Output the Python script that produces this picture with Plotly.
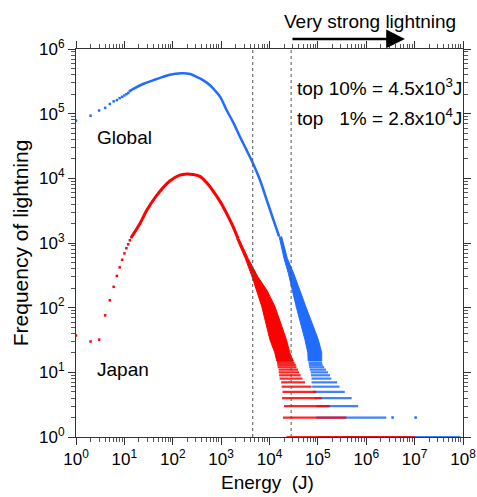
import plotly.graph_objects as go

# ---------------- data ----------------
# Global: discrete low-energy bins
g_dot_x = [1, 2, 3, 4, 5, 6, 7, 8, 9, 10, 11, 12, 13]
g_dot_y = [7.8e4, 9.3e4, 1.12e5, 1.23e5, 1.41e5, 1.55e5, 1.62e5, 1.74e5,
           1.82e5, 1.91e5, 2.0e5, 2.09e5, 2.24e5]
# Global: dense part of the distribution
g_line_x = [13, 15, 25, 40, 60, 87, 150, 230, 309, 420, 589, 760, 955, 1290,
            1800, 2450, 3300, 4570, 6300, 8700, 12000, 15800]
g_line_y = [2.24e5, 2.4e5, 2.9e5, 3.3e5, 3.67e5, 4.0e5, 4.2e5, 4.1e5, 3.7e5,
            3.3e5, 2.75e5, 2.25e5, 1.82e5, 1.15e5, 7.2e4, 4.4e4, 2.8e4, 1.7e4,
            9.6e3, 4.7e3, 2.3e3, 1.26e3]
# Global: scattered band (count, left energy, right energy)
g_band_y = [1260, 575, 340, 105, 32, 20, 15]
g_band_xl = [1.58e4, 2.0e4, 2.45e4, 3.55e4, 5.4e4, 6.2e4, 6.3e4]
g_band_xr = [1.78e4, 2.34e4, 3.16e4, 5.6e4, 1.02e5, 1.2e5, 1.2e5]
# Global: low-count rows (count, start energy, end energy)
g_row_n = [14, 13, 12, 11, 10, 9, 8, 7, 6, 5, 4, 3, 2, 1]
g_row_x0 = [6.4e4, 6.5e4, 6.6e4, 6.8e4, 7.1e4, 7.2e4, 7.4e4, 7.4e4, 7.6e4,
            7.9e4, 8.7e4, 9.3e4, 9.3e4, 1.0e5]
g_row_x1 = [1.22e5, 1.26e5, 1.35e5, 1.48e5, 1.62e5, 1.78e5, 1.9e5, 2.5e5,
            2.8e5, 3.6e5, 5.0e5, 6.8e5, 2.6e6, 8.9e7]
g_iso_x = [3.5e6, 1.05e7]
g_iso_y = [2, 2]

# Japan: discrete low-energy bins
j_dot_x = [1, 2, 3, 4, 5, 6, 7, 8, 9, 10, 11, 12, 13, 14]
j_dot_y = [37, 30, 32, 76, 130, 210, 310, 420, 550, 690, 830, 955, 1100, 1230]
# Japan: dense part
j_line_x = [14, 21, 29, 47, 87, 140, 195, 260, 363, 500, 690, 950, 1290,
            1700, 2240]
j_line_y = [1230, 2.0e3, 3.2e3, 5.5e3, 9.1e3, 1.12e4, 1.17e4, 1.15e4, 1.07e4,
            8.6e3, 6.3e3, 4.4e3, 2.9e3, 1.9e3, 1.17e3]
# Japan: scattered band
j_band_y = [1170, 575, 300, 190, 105, 32, 20, 15]
j_band_xl = [2090, 3160, 4370, 5370, 6900, 1.02e4, 1.29e4, 1.41e4]
j_band_xr = [2340, 3630, 5750, 8700, 1.29e4, 2.24e4, 2.63e4, 3.1e4]
# Japan: low-count rows
j_row_n = [15, 14, 13, 12, 11, 10, 9, 8, 7, 6, 5, 4, 3, 2, 1]
j_row_x0 = [1.41e4, 1.43e4, 1.45e4, 1.48e4, 1.55e4, 1.55e4, 1.58e4, 1.62e4,
            1.74e4, 1.78e4, 1.86e4, 1.82e4, 2.0e4, 1.9e4, 2.24e4]
j_row_x1 = [3.1e4, 3.3e4, 3.5e4, 3.6e4, 3.9e4, 4.1e4, 4.4e4, 4.8e4, 5.4e4,
            7.4e4, 9.3e4, 1.2e5, 1.78e5, 3.9e5, 1.0e7]

# thresholds
top10 = 4.5e3
top1 = 2.8e4

x_tick_vals = [10 ** i for i in range(0, 9)]
x_tick_text = ["10<sup>%d</sup>" % i for i in range(0, 9)]
y_tick_vals = [10 ** i for i in range(0, 7)]
y_tick_text = ["10<sup>%d</sup>" % i for i in range(0, 7)]

BLUE = "#1f6cff"
RED = "#ff0000"
FONT = "Liberation Sans, Arial, sans-serif"


def rows_xy(n, x0, x1):
    xs, ys = [], []
    for c, a, b in zip(n, x0, x1):
        xs += [a, b, None]
        ys += [c, c, None]
    return xs, ys


def band_xy(yv, xl, xr):
    return list(xl) + list(reversed(xr)), list(yv) + list(reversed(yv))


fig = go.Figure()

for (dx, dy, lx, ly, by, bl, br, rn, r0, r1, col, lw) in [
    (g_dot_x, g_dot_y, g_line_x, g_line_y, g_band_y, g_band_xl, g_band_xr,
     g_row_n, g_row_x0, g_row_x1, BLUE, 2.5),
    (j_dot_x, j_dot_y, j_line_x, j_line_y, j_band_y, j_band_xl, j_band_xr,
     j_row_n, j_row_x0, j_row_x1, RED, 3),
]:
    rx, ry = rows_xy(rn, r0, r1)
    fig.add_trace(go.Scatter(x=rx, y=ry, mode="lines",
                             line=dict(color=col, width=2.2), opacity=0.85,
                             hoverinfo="skip", showlegend=False))
    bx, byy = band_xy(by, bl, br)
    fig.add_trace(go.Scatter(x=bx, y=byy, mode="lines", fill="toself",
                             fillcolor=col, line=dict(color=col, width=1),
                             hoverinfo="skip", showlegend=False))
    fig.add_trace(go.Scatter(x=lx, y=ly, mode="lines",
                             line=dict(color=col, width=lw, shape="spline"),
                             showlegend=False))
    fig.add_trace(go.Scatter(x=dx, y=dy, mode="markers",
                             marker=dict(color=col, size=2.5, symbol="square"),
                             showlegend=False))
    if col == BLUE:
        fig.add_trace(go.Scatter(x=g_iso_x, y=g_iso_y, mode="markers",
                                 marker=dict(color=col, size=2.5, symbol="square"),
                                 showlegend=False))

for xv in (top10, top1):
    fig.add_shape(type="line", xref="x", yref="paper", x0=xv, x1=xv, y0=0, y1=1,
                  line=dict(color="#555555", width=1, dash="dot"))

axis_common = dict(
    type="log", showgrid=False, zeroline=False, showline=True,
    linecolor="#333333", linewidth=1, mirror="allticks", automargin=False,
    ticks="outside", ticklen=7, tickwidth=1, tickcolor="#333333",
    tickfont=dict(family=FONT, size=17, color="black"),
)

minor_x = [m * 10 ** i for i in range(0, 8) for m in range(2, 10)]
minor_y = [m * 10 ** i for i in range(0, 6) for m in range(2, 10)]

fig.update_xaxes(**axis_common, range=[0, 8], tickmode="array",
                 tickvals=x_tick_vals, ticktext=x_tick_text,
                 minor=dict(tickmode="array", tickvals=minor_x, ticks="outside",
                            ticklen=4, tickcolor="#555555", showgrid=False))
fig.update_yaxes(**axis_common, range=[0, 6], tickmode="array",
                 tickvals=y_tick_vals, ticktext=y_tick_text,
                 minor=dict(tickmode="array", tickvals=minor_y, ticks="outside",
                            ticklen=4, tickcolor="#555555", showgrid=False))

ann_font = dict(family=FONT, size=19, color="black")
annotations = [
    dict(text="Global", x=0.049, y=0.773, xanchor="left", yanchor="middle"),
    dict(text="Japan", x=0.049, y=0.173, xanchor="left", yanchor="middle"),
    dict(text="top 10% = 4.5x10<sup>3</sup>J", x=0.565, y=0.902,
         xanchor="left", yanchor="middle"),
    dict(text="top\u00a0\u00a0\u00a01% = 2.8x10<sup>4</sup>J", x=0.565, y=0.825,
         xanchor="left", yanchor="middle"),
    dict(text="Very strong lightning", x=0.532, y=1.072, xanchor="left",
         yanchor="middle"),
    dict(text="Energy\u00a0\u00a0(J)", x=0.494, y=-0.118, xanchor="center",
         yanchor="middle"),
    dict(text="Frequency of lightning", x=-0.144, y=0.5, xanchor="center",
         yanchor="middle", textangle=-90, font=dict(family=FONT, size=21,
                                                    color="black")),
]
for a in annotations:
    a.setdefault("font", ann_font)
    fig.add_annotation(xref="paper", yref="paper", showarrow=False, **a)

# arrow
fig.add_annotation(xref="paper", yref="paper", x=0.850, y=1.026,
                   ax=-114, ay=0, axref="pixel", ayref="pixel", text="",
                   showarrow=True, arrowhead=2, arrowsize=1.5, arrowwidth=2.5,
                   arrowcolor="black")

fig.update_layout(width=477, height=497,
                  margin=dict(l=76, r=14, t=49, b=60, autoexpand=False),
                  paper_bgcolor="white", plot_bgcolor="white",
                  font=dict(family=FONT))

fig.write_html("out.html")
